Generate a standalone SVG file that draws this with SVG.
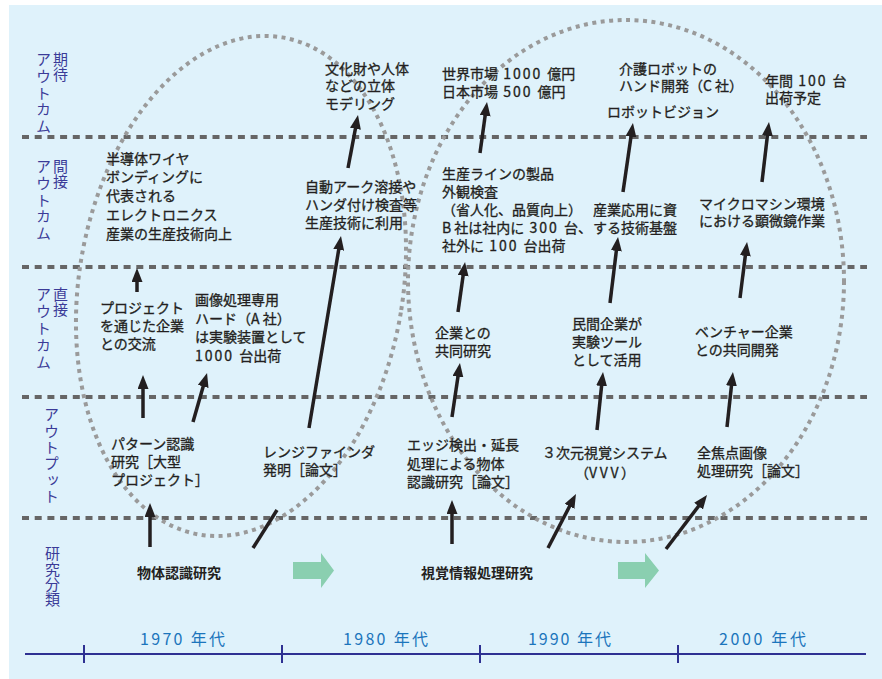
<svg xmlns="http://www.w3.org/2000/svg" width="882" height="679" viewBox="0 0 882 679">
<style>
.t{font-family:"Noto Sans CJK JP","Noto Sans",sans-serif;font-size:14px;fill:#231f20;stroke:#231f20;stroke-width:0.3}
.b{font-weight:bold;stroke-width:0}
.n{letter-spacing:2px}
.lab{font-family:"Noto Sans CJK JP","Noto Sans",sans-serif;font-size:15px;fill:#3b3b98;writing-mode:vertical-rl}
.dec{font-family:"Noto Sans CJK JP","Noto Sans",sans-serif;font-size:16px;fill:#1b75bc;letter-spacing:2px}
.grid{stroke:#666;stroke-width:4;stroke-dasharray:7 5.7;fill:none}
.ell{fill:none;stroke:#9a9a9a;stroke-width:4;stroke-dasharray:4 4.5}
.arr{stroke:#231f20;stroke-width:3.5;fill:none;marker-end:url(#ah)}
.ln{stroke:#231f20;stroke-width:3.5;fill:none}
.tl{stroke:#2e3192;stroke-width:2;fill:none}
.green{fill:#8acfb0}
</style>
<defs>
<marker id="ah" markerUnits="userSpaceOnUse" viewBox="0 0 14 11" refX="8" refY="5.5" markerWidth="14" markerHeight="11" orient="auto">
<path d="M0,0 L14,5.5 L0,11 z" fill="#231f20"/>
</marker>
</defs>
<rect x="0" y="0" width="882" height="679" fill="#ffffff"/>
<rect x="9" y="5" width="873" height="674" fill="#dff2fb"/>

<g id="grid">
<line class="grid" x1="22" y1="137" x2="867" y2="137"/>
<line class="grid" x1="22" y1="267" x2="867" y2="267"/>
<line class="grid" x1="22" y1="397" x2="867" y2="397"/>
<line class="grid" x1="22" y1="518" x2="867" y2="518"/>
</g>

<g id="ellipses">
<ellipse class="ell" cx="241" cy="286" rx="162" ry="252" transform="rotate(9.4 241 286)"/>
<ellipse class="ell" cx="626" cy="281" rx="218" ry="261"/>
</g>

<g id="row-labels">
<text class="lab" x="60.5" y="52">期待</text>
<text class="lab" x="43.5" y="52" style="letter-spacing:1.7px">アウトカム</text>
<text class="lab" x="60.5" y="159">間接</text>
<text class="lab" x="43.5" y="159" style="letter-spacing:1.7px">アウトカム</text>
<text class="lab" x="60.5" y="287">直接</text>
<text class="lab" x="43.5" y="287" style="letter-spacing:2px">アウトカム</text>
<text class="lab" x="51.5" y="407" style="letter-spacing:1.4px">アウトプット</text>
<text class="lab" x="52.5" y="546" style="letter-spacing:0.4px">研究分類</text>
</g>

<g id="connectors">
<path class="arr" d="M150,547 L150,509"/>
<path class="ln" d="M253,548 L277,510"/>
<path class="arr" d="M143,418 L143,381"/>
<path class="arr" d="M193,422 L205.4,378.8"/>
<path class="arr" d="M137,292 L137,274"/>
<path class="arr" d="M309,428 L340,241.9"/>
<path class="arr" d="M348,168 L356.9,120.9"/>
<path class="arr" d="M480,153 L486.2,107.9"/>
<path class="arr" d="M458,312 L464.2,267.9"/>
<path class="arr" d="M452,417 L459.1,368.9"/>
<path class="arr" d="M452,544 L452,506"/>
<path class="arr" d="M548,548 L573.2,499.3"/>
<path class="arr" d="M597,430 L602.4,378"/>
<path class="arr" d="M610,303 L617.3,243"/>
<path class="arr" d="M623,192 L632.1,128.9"/>
<path class="arr" d="M666,549 L703.4,499.8"/>
<path class="arr" d="M727,427 L732.3,378"/>
<path class="arr" d="M740,298 L746.3,248"/>
<path class="arr" d="M762,182 L768.3,128"/>
</g>

<g id="n-semiconductor"><text class="t"><tspan x="106" y="163.5">半導体ワイヤ</tspan><tspan x="106" y="182.3">ボンディングに</tspan><tspan x="106" y="201">代表される</tspan><tspan x="106" y="219.8">エレクトロニクス</tspan><tspan x="106" y="238.5">産業の生産技術向上</tspan></text></g>
<g id="n-bunkazai"><text class="t"><tspan x="325" y="73.5">文化財や人体</tspan><tspan x="325" y="91">などの立体</tspan><tspan x="325" y="108.5">モデリング</tspan></text></g>
<g id="n-market"><text class="t"><tspan x="442" y="78.5">世界市場<tspan class="n"> 1000 </tspan>億円</tspan><tspan x="442" y="97">日本市場<tspan class="n"> 500 </tspan>億円</tspan></text></g>
<g id="n-welding"><text class="t"><tspan x="305" y="191.5">自動アーク溶接や</tspan><tspan x="305" y="209.5">ハンダ付け検査等</tspan><tspan x="305" y="227.5">生産技術に利用</tspan></text></g>
<g id="n-inspection"><text class="t"><tspan x="442" y="178.5">生産ラインの製品</tspan><tspan x="442" y="196.7">外観検査</tspan><tspan x="442" y="214.9">（省人化、品質向上）</tspan><tspan x="442" y="233.1">B 社は社内に<tspan class="n"> 300 </tspan>台、</tspan><tspan x="442" y="251.3">社外に<tspan class="n"> 100 </tspan>台出荷</tspan></text></g>
<g id="n-industry"><text class="t"><tspan x="593" y="214.9">産業応用に資</tspan><tspan x="593" y="233.1">する技術基盤</tspan></text></g>
<g id="n-care"><text class="t"><tspan x="619" y="73.5">介護ロボットの</tspan><tspan x="619" y="90.5">ハンド開発（C 社）</tspan></text></g>
<g id="n-robotvision"><text class="t" x="607" y="117">ロボットビジョン</text></g>
<g id="n-annual"><text class="t"><tspan x="765" y="86">年間<tspan class="n"> 100 </tspan>台</tspan><tspan x="765" y="103">出荷予定</tspan></text></g>
<g id="n-micro"><text class="t"><tspan x="699" y="208.5">マイクロマシン環境</tspan><tspan x="699" y="225.5">における顕微鏡作業</tspan></text></g>
<g id="n-project"><text class="t"><tspan x="100" y="312.5">プロジェクト</tspan><tspan x="100" y="331">を通じた企業</tspan><tspan x="100" y="349">との交流</tspan></text></g>
<g id="n-hardware"><text class="t"><tspan x="195" y="305">画像処理専用</tspan><tspan x="195" y="323.7">ハード（A 社）</tspan><tspan x="195" y="342.4">は実験装置として</tspan><tspan x="195" y="361"><tspan class="n">1000 </tspan>台出荷</tspan></text></g>
<g id="n-joint"><text class="t"><tspan x="435" y="337.5">企業との</tspan><tspan x="435" y="355.5">共同研究</tspan></text></g>
<g id="n-private"><text class="t"><tspan x="572" y="329">民間企業が</tspan><tspan x="572" y="347">実験ツール</tspan><tspan x="572" y="365">として活用</tspan></text></g>
<g id="n-venture"><text class="t"><tspan x="695" y="337">ベンチャー企業</tspan><tspan x="695" y="355">との共同開発</tspan></text></g>
<g id="n-pattern"><text class="t"><tspan x="111" y="449">パターン認識</tspan><tspan x="111" y="467">研究［大型</tspan><tspan x="111" y="485">プロジェクト］</tspan></text></g>
<g id="n-range"><text class="t"><tspan x="263" y="456.5">レンジファインダ</tspan><tspan x="263" y="474.5">発明［論文］</tspan></text></g>
<g id="n-edge"><text class="t"><tspan x="407" y="450">エッジ検出・延長</tspan><tspan x="407" y="468.5">処理による物体</tspan><tspan x="407" y="487">認識研究［論文］</tspan></text></g>
<g id="n-vvv"><text class="t"><tspan x="542" y="458">３次元視覚システム</tspan><tspan x="605" y="478" text-anchor="middle">（<tspan style="letter-spacing:2.5px">VVV</tspan>）</tspan></text></g>
<g id="n-focus"><text class="t"><tspan x="697" y="458">全焦点画像</tspan><tspan x="697" y="475.5">処理研究［論文］</tspan></text></g>
<g id="n-object"><text class="t b" x="137" y="578">物体認識研究</text></g>
<g id="n-visual"><text class="t b" x="421" y="578">視覚情報処理研究</text></g>

<g id="transition-arrows">
<polygon class="green" points="293,562 321,562 321,553 334,570.5 321,588 321,579 293,579"/>
<polygon class="green" points="618,562 645,562 645,553 659,570.5 645,588 645,579 618,579"/>
</g>

<g id="timeline">
<line class="tl" x1="25" y1="654" x2="866" y2="654"/>
<line class="tl" x1="84" y1="645" x2="84" y2="663"/>
<line class="tl" x1="282" y1="645" x2="282" y2="663"/>
<line class="tl" x1="480" y1="645" x2="480" y2="663"/>
<line class="tl" x1="678" y1="645" x2="678" y2="663"/>
<text class="dec" x="140" y="645" textLength="87">1970 年代</text>
<text class="dec" x="343" y="645" textLength="87">1980 年代</text>
<text class="dec" x="528" y="645" textLength="85">1990 年代</text>
<text class="dec" x="719" y="645" textLength="89">2000 年代</text>
</g>
</svg>
